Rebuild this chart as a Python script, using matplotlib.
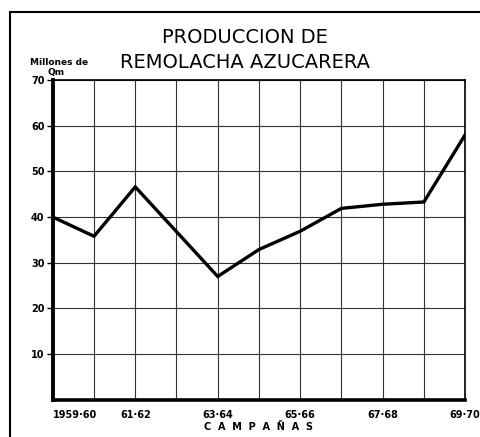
import matplotlib
matplotlib.use("Agg")
import matplotlib.pyplot as plt
from matplotlib.patches import Rectangle

# produccion de remolacha azucarera, millones de Qm
campanas = ["1959-60", "60-61", "61-62", "62-63", "63-64", "64-65",
            "65-66", "66-67", "67-68", "68-69", "69-70"]
produccion = [40.0, 35.8, 46.6, 36.8, 27.0, 32.9, 36.9, 41.9, 42.8, 43.3, 58.0]
xlabels = ["1959·60", "61·62", "63·64", "65·66", "67·68", "69·70"]
yticks = [10, 20, 30, 40, 50, 60, 70]

fig = plt.figure(figsize=(4.8, 4.37), dpi=100)
ax = fig.add_axes([0.110, 0.085, 0.859, 0.732])

x = list(range(len(campanas)))
ax.plot(x, produccion, color="black", lw=2.4, solid_joinstyle="miter", zorder=3)

ax.set_xlim(0, len(campanas) - 1)
ax.set_ylim(0, 70)
ax.set_xticks(x)
ax.set_xticklabels([xlabels[i // 2] if i % 2 == 0 else "" for i in x])
ax.set_yticks(yticks)
ax.set_yticklabels([str(v) for v in yticks])
ax.grid(True, color="#333333", lw=0.8)
ax.tick_params(axis="x", length=0, pad=7, labelsize=7)
ax.tick_params(axis="y", length=4, width=1, direction="out", pad=2, labelsize=7)
for lab in ax.get_xticklabels() + ax.get_yticklabels():
    lab.set_fontweight("bold")
ax.get_xticklabels()[0].set_horizontalalignment("left")

ax.spines["left"].set_linewidth(2.8)
ax.spines["bottom"].set_linewidth(2.6)
ax.spines["right"].set_linewidth(1.2)
ax.spines["top"].set_linewidth(1.2)

ax.set_xlabel("C  A  M  P  A  Ñ  A  S", fontsize=7, fontweight="bold", labelpad=2)

fig.text(0.51, 0.915, "PRODUCCION DE", ha="center", va="center", fontsize=14)
fig.text(0.51, 0.858, "REMOLACHA AZUCARERA", ha="center", va="center", fontsize=14)
fig.text(0.124, 0.858, "Millones de", ha="center", va="center", fontsize=6.5, fontweight="bold")
fig.text(0.116, 0.834, "Qm", ha="center", va="center", fontsize=6.5, fontweight="bold")

# marco exterior
fig.add_artist(Rectangle((0.021, -0.1), 1.2, 1.072, transform=fig.transFigure,
                         fill=False, lw=1.5, color="black"))

fig.savefig("out.png", dpi=100)
